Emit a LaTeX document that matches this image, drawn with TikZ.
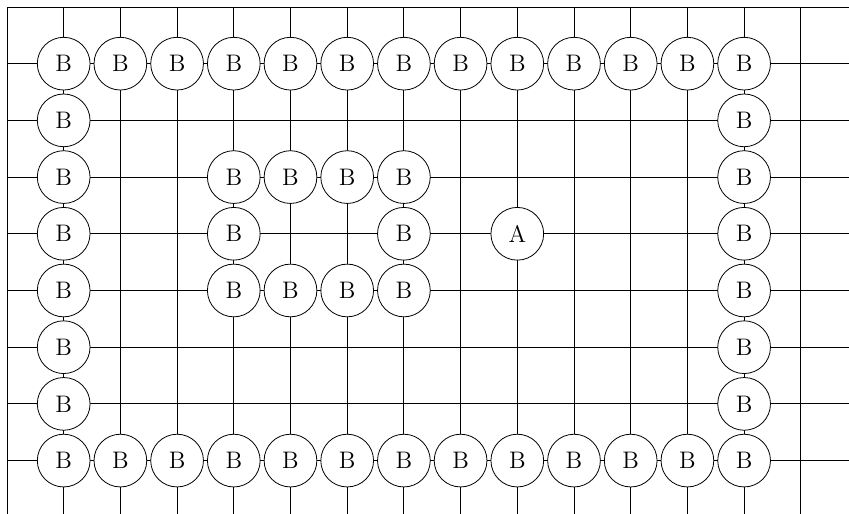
\documentclass[tikz,border=0pt]{standalone}
\tikzset{
  stone/.style={circle, draw, fill=white, minimum size=9.3mm, inner sep=0pt, font=\large},
  board/.style={thin, black}
}
\begin{document}
\begin{tikzpicture}
  \useasboundingbox (-0.123,0.123) rectangle (14.85,-8.94);
  \clip (-0.123,0.123) rectangle (14.85,-8.94);
  \draw[board] (0,-9.5) grid (15.5,0);

  % outer ring, top row
  \node[stone] (b-1-1) at (1,-1) {B};
  \node[stone] (b-1-2) at (2,-1) {B};
  \node[stone] (b-1-3) at (3,-1) {B};
  \node[stone] (b-1-4) at (4,-1) {B};
  \node[stone] (b-1-5) at (5,-1) {B};
  \node[stone] (b-1-6) at (6,-1) {B};
  \node[stone] (b-1-7) at (7,-1) {B};
  \node[stone] (b-1-8) at (8,-1) {B};
  \node[stone] (b-1-9) at (9,-1) {B};
  \node[stone] (b-1-10) at (10,-1) {B};
  \node[stone] (b-1-11) at (11,-1) {B};
  \node[stone] (b-1-12) at (12,-1) {B};
  \node[stone] (b-1-13) at (13,-1) {B};

  % outer ring, sides
  \node[stone] (b-2-1) at (1,-2) {B};
  \node[stone] (b-3-1) at (1,-3) {B};
  \node[stone] (b-4-1) at (1,-4) {B};
  \node[stone] (b-5-1) at (1,-5) {B};
  \node[stone] (b-6-1) at (1,-6) {B};
  \node[stone] (b-7-1) at (1,-7) {B};
  \node[stone] (b-2-13) at (13,-2) {B};
  \node[stone] (b-3-13) at (13,-3) {B};
  \node[stone] (b-4-13) at (13,-4) {B};
  \node[stone] (b-5-13) at (13,-5) {B};
  \node[stone] (b-6-13) at (13,-6) {B};
  \node[stone] (b-7-13) at (13,-7) {B};

  % outer ring, bottom row
  \node[stone] (b-8-1) at (1,-8) {B};
  \node[stone] (b-8-2) at (2,-8) {B};
  \node[stone] (b-8-3) at (3,-8) {B};
  \node[stone] (b-8-4) at (4,-8) {B};
  \node[stone] (b-8-5) at (5,-8) {B};
  \node[stone] (b-8-6) at (6,-8) {B};
  \node[stone] (b-8-7) at (7,-8) {B};
  \node[stone] (b-8-8) at (8,-8) {B};
  \node[stone] (b-8-9) at (9,-8) {B};
  \node[stone] (b-8-10) at (10,-8) {B};
  \node[stone] (b-8-11) at (11,-8) {B};
  \node[stone] (b-8-12) at (12,-8) {B};
  \node[stone] (b-8-13) at (13,-8) {B};

  % inner ring
  \node[stone] (b-3-4) at (4,-3) {B};
  \node[stone] (b-3-5) at (5,-3) {B};
  \node[stone] (b-3-6) at (6,-3) {B};
  \node[stone] (b-3-7) at (7,-3) {B};
  \node[stone] (b-4-4) at (4,-4) {B};
  \node[stone] (b-4-7) at (7,-4) {B};
  \node[stone] (b-5-4) at (4,-5) {B};
  \node[stone] (b-5-5) at (5,-5) {B};
  \node[stone] (b-5-6) at (6,-5) {B};
  \node[stone] (b-5-7) at (7,-5) {B};

  \node[stone] (a) at (9,-4) {A};
\end{tikzpicture}
\end{document}
